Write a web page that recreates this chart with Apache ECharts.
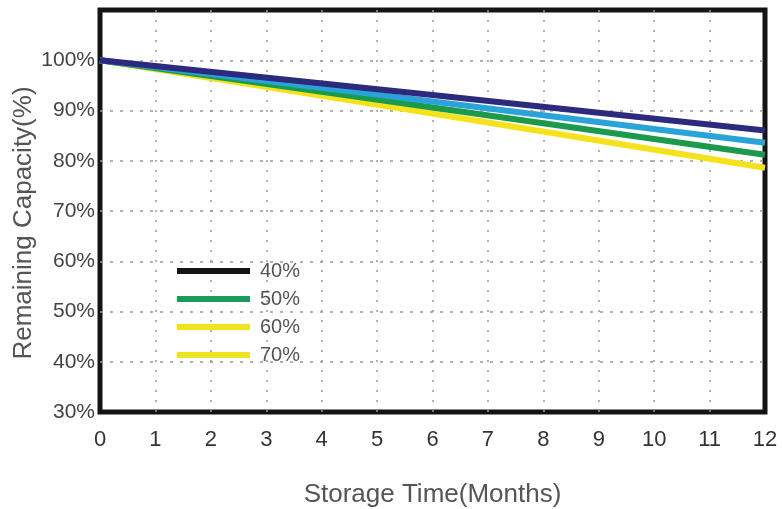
<!DOCTYPE html>
<html>
<head>
<meta charset="utf-8">
<script src="https://cdn.jsdelivr.net/npm/echarts@6/dist/echarts.min.js"></script>
<style>
html,body{margin:0;padding:0;background:#fff;}
#c{width:782px;height:509px;}
</style>
</head>
<body>
<div id="c"></div>
<script>
const months = [0, 6, 12];
const xTicks = ['0','1','2','3','4','5','6','7','8','9','10','11','12'];
const seriesNames = ['40%', '50%', '60%', '70%'];
const s40 = [100, 93.1, 86.0];
const s50 = [100, 91.8, 83.6];
const s60 = [100, 90.6, 81.2];
const s70 = [100, 89.4, 78.6];
const lineColors = ['#2b2a7c', '#2aa3d9', '#1c9a4c', '#f4e31c'];
const legendColors = ['#141414', '#1c9a5a', '#f2e21a', '#eee41e'];

const values = [s40, s50, s60, s70];
const chart = echarts.init(document.getElementById('c'));
chart.setOption({
  animation: false,
  backgroundColor: '#fff',
  textStyle: { fontFamily: 'Liberation Sans, Arial, sans-serif' },
  grid: {
    left: 100, right: 17, top: 10, bottom: 97,
    outerBoundsMode: 'none', containLabel: false,
    show: true, borderColor: '#141414', borderWidth: 5, backgroundColor: 'transparent'
  },
  legend: {
    orient: 'vertical', left: 172, top: 256,
    icon: 'rect', itemWidth: 73, itemHeight: 6, itemGap: 8,
    textStyle: { fontSize: 20, color: '#555', padding: [0, 0, 0, 5] },
    data: seriesNames.map((n, i) => ({
      name: n,
      itemStyle: { color: legendColors[i] },
      lineStyle: { color: legendColors[i] }
    }))
  },
  xAxis: {
    type: 'value', min: 0, max: 12, interval: 1,
    name: 'Storage Time(Months)', nameLocation: 'middle', nameGap: 70,
    nameMoveOverlap: false,
    nameTextStyle: { fontSize: 26, color: '#555' },
    axisLine: { show: false }, axisTick: { show: false },
    axisLabel: {
      fontSize: 22, color: '#333', margin: 17,
      formatter: v => xTicks[v]
    },
    splitLine: { show: true, showMinLine: false, showMaxLine: false,
      lineStyle: { color: '#999', type: [2, 8], width: 1.5 } }
  },
  yAxis: {
    type: 'value', min: 30, max: 110, interval: 10,
    name: 'Remaining Capacity(%)', nameLocation: 'middle', nameGap: 63,
    nameMoveOverlap: false,
    nameTextStyle: { fontSize: 26, color: '#555', padding: [0, 24, 0, 0] },
    axisLine: { show: false }, axisTick: { show: false },
    axisLabel: {
      fontSize: 21, color: '#444', margin: 5,
      formatter: v => (v > 100 ? '' : v + '%')
    },
    splitLine: { show: true, showMinLine: false, showMaxLine: false,
      lineStyle: { color: '#999', type: [3, 7], width: 1.5 } }
  },
  series: values.map((arr, i) => ({
    name: seriesNames[i],
    type: 'line',
    data: months.map((m, j) => [m, arr[j]]),
    showSymbol: false,
    lineStyle: { color: lineColors[i], width: 6 },
    itemStyle: { color: lineColors[i] },
    z: 10 - i
  }))
});
</script>
</body>
</html>
